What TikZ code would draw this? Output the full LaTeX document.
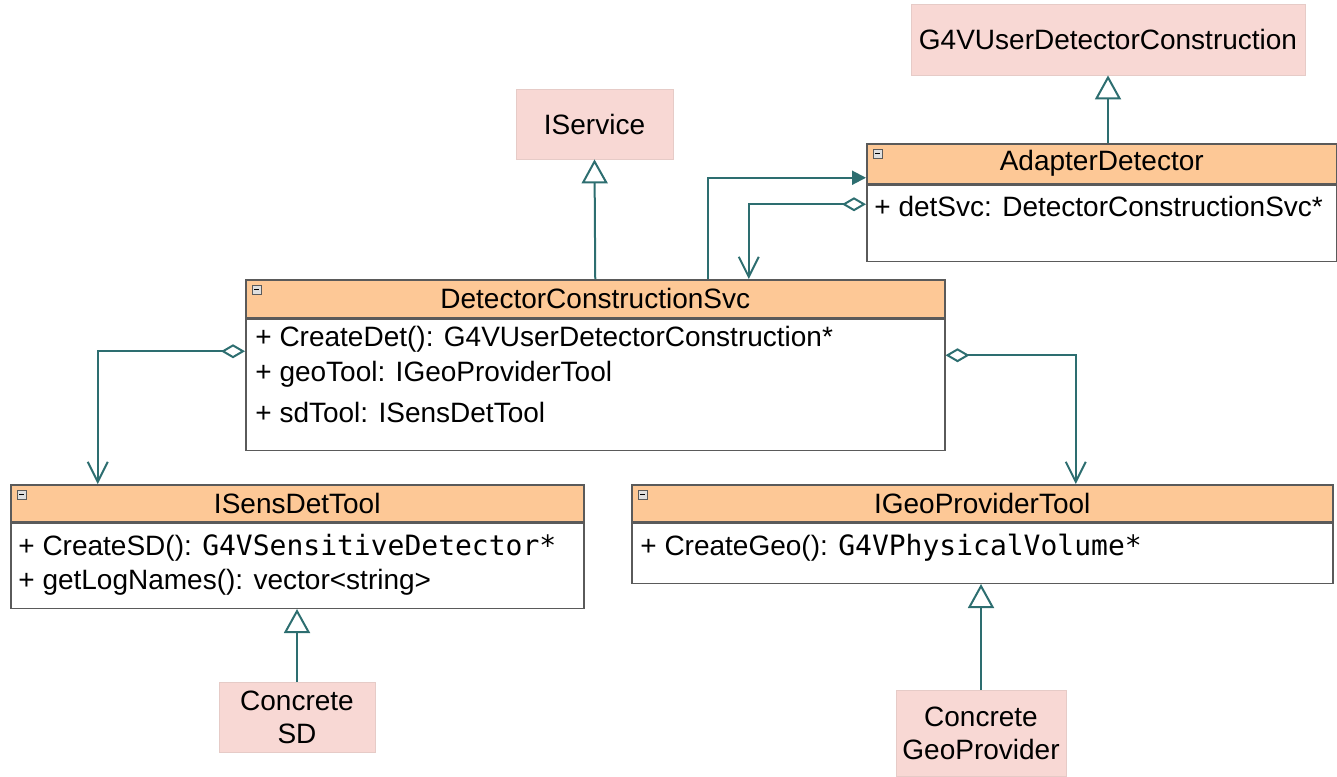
\documentclass[tikz,border=0pt]{standalone}
\usepackage{fontspec}
\setmainfont{Liberation Sans}
\newfontfamily\codefont{DejaVu Sans Mono}
\usepackage{tikz}
\usetikzlibrary{arrows.meta}
\usetikzlibrary{positioning}
\usepackage{xcolor}
\definecolor{umlorange}{RGB}{253,200,150}
\definecolor{umlpink}{RGB}{248,216,212}
\definecolor{umlteal}{RGB}{45,110,112}
\definecolor{umlgrey}{RGB}{90,90,90}
\tikzstyle{iface} = [rectangle, draw=umlpink!85!gray, fill=umlpink, inner sep=0pt, align=center]
\tikzstyle{classhead} = [rectangle, anchor=north west, draw=umlgrey, fill=umlorange, inner sep=0pt, text centered, line width=0.75pt]
\tikzstyle{classbody} = [rectangle, anchor=north west, draw=umlgrey, fill=white, inner sep=0pt, line width=0.75pt]
\tikzstyle{member} = [anchor=west, inner sep=0pt]
\tikzstyle{inherit} = [umlteal, line width=1pt, -{Triangle[open, width=13pt, length=12pt]}]
\tikzstyle{assoc} = [umlteal, line width=1pt, -{Triangle[width=7pt, length=7pt]}]
\tikzstyle{aggr} = [umlteal, line width=1pt, {Diamond[open, width=7pt, length=12pt]}-{Straight Barb[width=10pt, length=10pt]}]
\newcommand{\foldicon}[1]{%
  \draw[umlgrey, fill=gray!25, line width=0.3pt] ([shift={(3.5pt,-3pt)}]#1.north west) rectangle ++(4.5pt,-4.5pt);
  \draw[black, line width=0.6pt] ([shift={(4.5pt,-5.25pt)}]#1.north west) -- ++(2.5pt,0);}

\begin{document}
\begin{tikzpicture}[x=0.5pt, y=-0.5pt, font=\fontsize{14}{16.5}\selectfont]
  \useasboundingbox (0,0) rectangle (1337,776);

  % interfaces
  \node (g4udc) [iface, minimum width=197pt, minimum height=35.5pt] at (1108,39.5) {G4VUserDetectorConstruction};
  \node (iservice) [iface, minimum width=78.5pt, minimum height=35pt] at (594.5,124) {IService};
  \node (concreteSD) [iface, minimum width=78pt, minimum height=35pt] at (297,717) {Concrete\\SD};
  \node (concreteGeo) [iface, minimum width=85pt, minimum height=43pt] at (981,733) {Concrete\\GeoProvider};

  % classes
  \node (adapterHead) [classhead, minimum width=235pt, minimum height=20pt] at (866,143) {AdapterDetector};
  \node (adapterBody) [classbody, minimum width=235pt, minimum height=38pt] at (adapterHead.south west) {};
  \node (adapterAttr) [member] at (874,206) {+ detSvc: DetectorConstructionSvc*};
  \foldicon{adapterHead}

  \node (dcsHead) [classhead, minimum width=349.5pt, minimum height=19pt] at (245,279) {DetectorConstructionSvc};
  \node (dcsBody) [classbody, minimum width=349.5pt, minimum height=65.5pt] at (dcsHead.south west) {};
  \node (dcsDet) [member] at (255,339) {+ CreateDet(): G4VUserDetectorConstruction*};
  \node (dcsGeo) [member] at (255,374) {+ geoTool: IGeoProviderTool};
  \node (dcsSD) [member] at (255,412) {+ sdTool: ISensDetTool};
  \foldicon{dcsHead}

  \node (sdHead) [classhead, minimum width=286.5pt, minimum height=18.5pt] at (10,484) {ISensDetTool};
  \node (sdBody) [classbody, minimum width=286.5pt, minimum height=42.5pt] at (sdHead.south west) {};
  \node (sdCreate) [member] at (18,548) {+ CreateSD(): {\codefont G4VSensitiveDetector*}};
  \node (sdNames) [member] at (18,582) {+ getLogNames(): vector<string>};
  \foldicon{sdHead}

  \node (geoHead) [classhead, minimum width=350.5pt, minimum height=18.5pt] at (631,484) {IGeoProviderTool};
  \node (geoBody) [classbody, minimum width=350.5pt, minimum height=30pt] at (geoHead.south west) {};
  \node (geoCreate) [member] at (640,548) {+ CreateGeo(): {\codefont G4VPhysicalVolume*}};
  \foldicon{geoHead}

  % connectors
  \draw [inherit] (dcsHead.north) -- (iservice.south);
  \draw [inherit] (g4udc.south |- adapterHead.north) -- (g4udc.south);
  \draw [inherit] (concreteSD.north) -- (concreteSD.north |- sdBody.south);
  \draw [inherit] (concreteGeo.north) -- (concreteGeo.north |- geoBody.south);
  \draw [assoc] ([xshift=56.25pt]dcsHead.north) |- ([yshift=-7pt]adapterHead.west);
  \draw [aggr] ([yshift=9.5pt]adapterBody.west) -| ([xshift=76.75pt]dcsHead.north);
  \draw [aggr] ([yshift=16.75pt]dcsBody.west) -| ([xshift=-99.75pt]sdHead.north);
  \draw [aggr] ([yshift=14.75pt]dcsBody.east) -| ([xshift=46.75pt]geoHead.north);
\end{tikzpicture}
\end{document}
